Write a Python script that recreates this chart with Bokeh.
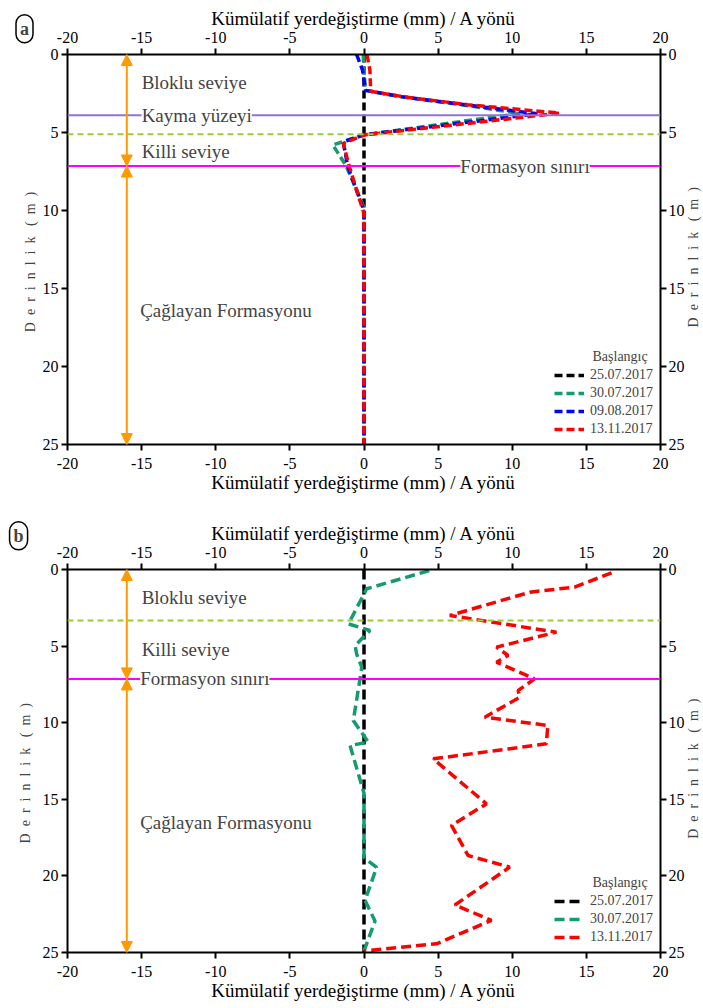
import math
from bokeh.plotting import figure
from bokeh.models import (Range1d, LinearAxis, FixedTicker, Span, Label, Arrow,
                          NormalHead, Legend, LegendItem)
from bokeh.layouts import column
from bokeh.embed import file_html
from bokeh.resources import INLINE

FONT = "Liberation Serif"
NB = "\u00a0"

# ---------------- data ----------------
x_ticks = [-20, -15, -10, -5, 0, 5, 10, 15, 20]
y_ticks = [0, 5, 10, 15, 20, 25]
x_title = "Kümülatif yerdeğiştirme (mm) / A yönü"
y_title = (NB * 2).join(list("Derinlik")) + NB * 3 + "(" + NB * 2 + "m" + NB * 2 + ")"
legend_title = "Başlangıç"

# panel a
a_base_x = [0, 0]
a_base_d = [0, 25]
a_g_x = [-0.05, 0.0, 0.1, 2.4, 6.6, 10.5, 0.0, -2.1, -1.2, 0.0, 0.0]
a_g_d = [0, 1.0, 2.3, 2.7, 3.22, 3.78, 5.15, 5.8, 7.15, 9.8, 25]
a_b_x = [-0.5, -0.1, 0.1, 2.5, 6.8, 11.7, 0.0, -1.4, -1.1, 0.0, 0.0]
a_b_d = [0, 1.0, 2.3, 2.7, 3.22, 3.8, 5.15, 5.6, 7.15, 10.0, 25]
a_r_x = [0.2, 0.4, 0.45, 2.6, 7.0, 13.2, 0.05, -1.4, -1.0, 0.0, 0.0]
a_r_d = [0, 1.0, 2.36, 2.7, 3.22, 3.76, 5.15, 5.7, 7.15, 10.2, 25]
a_dates = ["25.07.2017", "30.07.2017", "09.08.2017", "13.11.2017"]
a_kayma = 3.9
a_killi = 5.12
a_formasyon = 7.15

# panel b
b_base_x = [0, 0]
b_base_d = [0, 25]
b_g_x = [4.4, 0.18, -1.05, 0.4, -0.6, -0.5, -0.15, -0.27, -0.72, 0.29, -0.94,
         0.0, 0.0, 0.85, 0.07, 0.74, 0.0]
b_g_d = [0.07, 1.26, 3.55, 3.98, 4.96, 5.5, 6.37, 7.14, 9.86, 11.27, 11.49,
         14.6, 18.8, 19.45, 21.6, 22.95, 24.9]
b_r_x = [16.7, 14.2, 11.2, 5.79, 12.98, 8.94, 9.72, 8.94, 11.5, 10.4, 10.5, 8.15,
         12.4, 12.3, 4.67, 8.26, 5.9, 7.02, 9.83, 6.13, 8.6, 4.9, 0.0]
b_r_d = [0.22, 1.15, 1.48, 3.0, 4.09, 5.07, 5.61, 6.05, 7.14, 7.9, 8.34, 9.64,
         10.18, 11.38, 12.36, 15.3, 16.7, 18.67, 19.43, 21.9, 22.9, 24.43, 24.9]
b_dates = ["25.07.2017", "30.07.2017", "13.11.2017"]
b_killi = 3.33
b_formasyon = 7.14

C_BLACK = "#000000"
C_GREEN = "#169b6b"
C_BLUE = "#0000ff"
C_RED = "#ff0000"
C_ORANGE = "#ff9900"


def style_axis(ax, ticks, label, label_size, label_standoff, tick_standoff):
    ax.ticker = FixedTicker(ticks=ticks)
    ax.major_label_overrides = {t: str(t) for t in ticks}
    ax.axis_label = label
    ax.axis_label_text_font_size = label_size
    ax.axis_label_standoff = label_standoff
    ax.major_label_standoff = tick_standoff
    ax.axis_line_width = 2
    ax.axis_line_color = "black"
    ax.major_tick_line_width = 2
    ax.major_tick_line_color = "black"
    ax.major_tick_out = 6
    ax.major_tick_in = 0
    ax.minor_tick_out = 0
    ax.minor_tick_in = 0
    ax.major_label_text_font = FONT
    ax.major_label_text_font_size = "16px"
    ax.major_label_text_color = "black"
    ax.axis_label_text_font = FONT
    ax.axis_label_text_font_style = "normal"
    ax.axis_label_text_color = "black"


def side_label(p, side, x, y, text):
    # depth titles live in the side panels so they are drawn outside the frame
    p.add_layout(Label(x=x, y=y, text=text, angle=math.pi / 2,
                       text_font=FONT, text_font_size="14px", text_align="center",
                       text_baseline="middle"), side)


def make_panel(height, mb_left, mb_right, mb_top, mb_bottom, left_x):
    p = figure(width=703, height=height, x_range=Range1d(-20, 20),
               y_range=Range1d(25, 0), output_backend="svg",
               toolbar_location=None, min_border_left=mb_left,
               min_border_right=mb_right, min_border_top=mb_top,
               min_border_bottom=mb_bottom)
    top = LinearAxis()
    right = LinearAxis()
    p.add_layout(top, "above")
    p.add_layout(right, "right")
    bottom = p.below[0]
    left = p.left[0]
    style_axis(top, x_ticks, x_title, "19px", 0, 6)
    style_axis(bottom, x_ticks, x_title, "19px", 0, 7)
    style_axis(left, y_ticks, None, "14px", 0, 3)
    style_axis(right, y_ticks, None, "14px", 0, 2)
    p.xgrid.visible = False
    p.ygrid.visible = False
    p.outline_line_color = None
    side_label(p, "left", left_x, 13.3, y_title)
    side_label(p, "right", 22.25, 13.0, y_title)
    return p


def add_text(p, x, y, text, bg=False):
    p.add_layout(Label(x=x, y=y, text=text, text_font=FONT, text_font_size="19px",
                       text_align="left", text_baseline="middle",
                       background_fill_color="white" if bg else None))


def add_arrows(p, split):
    for y0, y1 in [(0, split), (split, 25)]:
        p.add_layout(Arrow(
            start=NormalHead(size=11, fill_color=C_ORANGE, line_color=C_ORANGE),
            end=NormalHead(size=11, fill_color=C_ORANGE, line_color=C_ORANGE),
            x_start=-16, y_start=y0, x_end=-16, y_end=y1,
            line_color=C_ORANGE, line_width=2))


def add_badge(p, x, y, t):
    p.add_layout(Label(x=x, y=y, text=t,
                       text_font=FONT, text_font_style="bold",
                       text_font_size="18px", text_align="center",
                       text_baseline="middle", border_line_color="black",
                       border_line_width=1.5, padding=4, border_radius=11,
                       background_fill_color="white"), "left")


def add_legend(p, renderers, labels):
    leg = Legend(items=[LegendItem(label=l, renderers=[r]) for l, r in zip(labels, renderers)],
                 location="bottom_right", title=NB * 11 + legend_title,
                 label_text_font=FONT, label_text_font_size="14px",
                 title_text_font=FONT, title_text_font_size="14px",
                 title_text_font_style="normal", glyph_width=30, glyph_height=14,
                 label_height=14, spacing=2, padding=4, margin=7,
                 label_standoff=6, title_standoff=2, border_line_color=None,
                 background_fill_color="white", background_fill_alpha=1.0)
    p.add_layout(leg)


# ---------------- panel a ----------------
pa = make_panel(516, 62, 43, 54, 72, -22.47)
pa.add_layout(Span(location=a_kayma, dimension="width", line_color="#9370db", line_width=2))
pa.add_layout(Span(location=a_killi, dimension="width", line_color="#9acd32",
                   line_width=2, line_dash="6 4"))
pa.add_layout(Span(location=a_formasyon, dimension="width", line_color="#ff00ff", line_width=2))
add_arrows(pa, a_formasyon)
dash_a = "8 4"
ra = [
    pa.line(a_base_x, a_base_d, line_color=C_BLACK, line_width=3.5, line_dash=dash_a),
    pa.line(a_g_x, a_g_d, line_color=C_GREEN, line_width=3.5, line_dash=dash_a),
    pa.line(a_b_x, a_b_d, line_color=C_BLUE, line_width=3.5, line_dash=dash_a),
    pa.line(a_r_x, a_r_d, line_color=C_RED, line_width=3.5, line_dash=dash_a),
]
add_text(pa, -15, 1.8, "Bloklu seviye")
add_text(pa, -15, a_kayma, "Kayma yüzeyi", bg=True)
add_text(pa, -15, 6.2, "Killi seviye")
add_text(pa, 6.5, a_formasyon, "Formasyon sınırı", bg=True)
add_text(pa, -15.1, 16.4, "Çağlayan Formasyonu")
add_legend(pa, ra, a_dates)
add_badge(pa, -22.9, -1.65, "a")

# ---------------- panel b ----------------
pb = make_panel(488, 67, 42, 53, 52, -22.83)
pb.add_layout(Span(location=b_killi, dimension="width", line_color="#9acd32",
                   line_width=2, line_dash="6 4"))
pb.add_layout(Span(location=b_formasyon, dimension="width", line_color="#ff00ff", line_width=2))
add_arrows(pb, b_formasyon)
dash_b = "10 5"
rb = [
    pb.line(b_base_x, b_base_d, line_color=C_BLACK, line_width=3.5, line_dash=dash_b),
    pb.line(b_g_x, b_g_d, line_color=C_GREEN, line_width=3.5, line_dash=dash_b),
    pb.line(b_r_x, b_r_d, line_color=C_RED, line_width=3.5, line_dash=dash_b),
]
add_text(pb, -15, 1.83, "Bloklu seviye")
add_text(pb, -15, 5.2, "Killi seviye")
add_text(pb, -15.1, b_formasyon, "Formasyon sınırı", bg=True)
add_text(pb, -15.1, 16.5, "Çağlayan Formasyonu")
add_legend(pb, rb, b_dates)
add_badge(pb, -23.3, -2.2, "b")

layout = column(pa, pb, spacing=0)
open("out.html", "w").write(file_html(layout, INLINE))
